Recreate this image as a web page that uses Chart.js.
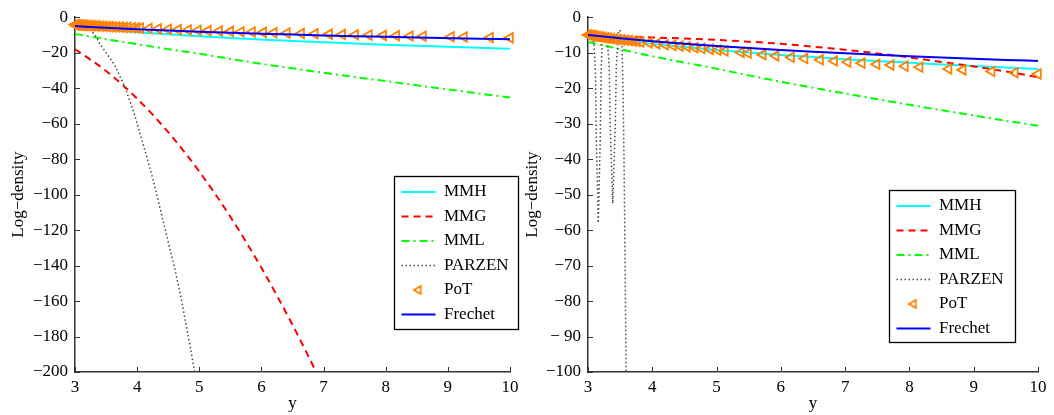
<!DOCTYPE html>
<html>
<head>
<meta charset="utf-8">
<script src="https://cdn.jsdelivr.net/npm/chart.js@4.4.0/dist/chart.umd.min.js"></script>
<style>
  body { margin: 0; background: #fff; }
  #wrap { position: relative; width: 1054px; height: 415px; }
  canvas { position: absolute; top: 0; }
  #leftChart { left: 0; }
  #rightChart { left: 513px; }
</style>
</head>
<body>
<div id="wrap">
  <canvas id="leftChart" width="527" height="415"></canvas>
  <canvas id="rightChart" width="541" height="415"></canvas>
</div>
<script>
// x positions shared by the smooth curves
const gridX = [3, 3.5, 4, 4.5, 5, 5.5, 6, 6.5, 7, 7.5, 8, 8.5, 9, 9.5, 10];

// left panel
const leftMMH = [-5.5, -7.07, -8.43, -9.64, -10.71, -11.68, -12.57, -13.39, -14.14, -14.85, -15.5, -16.12, -16.71, -17.26, -17.78];
const leftMMG = [-18, -30.3, -45.9, -64.8, -87, -112.5, -141.3, -173.4, -208.8, -247.5, -290, -335, -385, -438, -494];
const leftMML = [-9.5, -12.4, -15.2, -18.0, -20.6, -23.5, -26.3, -28.8, -31.3, -33.7, -36.0, -38.4, -40.7, -43.0, -45.3];
const leftFrechet = [-5, -5.96, -6.78, -7.51, -8.17, -8.76, -9.3, -9.79, -10.25, -10.68, -11.08, -11.46, -11.81, -12.15, -12.46];
const leftParzenX = [3.0, 3.1, 3.2, 3.27, 3.34, 3.4, 3.5, 3.64, 3.8, 3.95, 4.05, 4.15, 4.26, 4.35, 4.44, 4.53, 4.62, 4.7, 4.77, 4.85, 4.92, 5.0];
const leftParzenY = [-3.5, -4.5, -6, -8, -11, -15, -20, -27, -39, -54, -66, -78, -92, -105, -118, -131, -144, -157, -170, -185, -199, -215];
const leftPotX = [3.00, 3.02, 3.04, 3.07, 3.10, 3.13, 3.16, 3.20, 3.24, 3.28, 3.32, 3.36, 3.41, 3.46, 3.51, 3.56, 3.61, 3.67, 3.73, 3.79, 3.85, 3.92, 3.99,
  4.05, 4.19, 4.34, 4.50, 4.66, 4.82, 4.98, 5.14, 5.32, 5.50, 5.67, 5.85, 6.03, 6.20,
  6.41, 6.64, 6.86, 7.09, 7.30, 7.51, 7.73, 7.96, 8.17, 8.39, 8.60, 9.05, 9.26, 9.68, 10.0];
const leftPotY = [-4.3, -4.34, -4.38, -4.44, -4.50, -4.56, -4.62, -4.69, -4.77, -4.84, -4.92, -4.99, -5.08, -5.17, -5.26, -5.34, -5.43, -5.53, -5.63, -5.73, -5.82, -5.93, -6.04,
  -6.13, -6.34, -6.55, -6.77, -6.99, -7.19, -7.39, -7.58, -7.79, -8.00, -8.18, -8.37, -8.56, -8.73,
  -8.93, -9.15, -9.35, -9.55, -9.72, -9.90, -10.07, -10.25, -10.41, -10.57, -10.72, -11.04, -11.18, -11.45, -11.64];

// right panel
const rightMMH = [-5.3, -6.49, -7.52, -8.42, -9.23, -9.97, -10.64, -11.25, -11.82, -12.36, -12.85, -13.32, -13.76, -14.18, -14.57];
const rightMMG = [-5.3, -5.45, -5.7, -6.0, -6.4, -6.9, -7.5, -8.3, -9.2, -10.2, -11.35, -12.6, -13.9, -15.3, -16.9];
const rightMML = [-7, -9.0, -11.0, -12.8, -14.5, -16.4, -18.2, -19.9, -21.5, -23.1, -24.7, -26.2, -27.7, -29.2, -30.6];
const rightFrechet = [-5, -5.94, -6.75, -7.47, -8.12, -8.7, -9.23, -9.72, -10.17, -10.59, -10.98, -11.35, -11.7, -12.03, -12.34];
const rightParzenX = [3.00, 3.05, 3.09, 3.115, 3.13, 3.16, 3.19, 3.205, 3.22, 3.26, 3.30, 3.33, 3.345, 3.385, 3.425, 3.44, 3.47, 3.50, 3.53, 3.545, 3.56, 3.575, 3.59, 3.60];
const rightParzenY = [-5, -5.5, -7, -15, -35, -58, -35, -15, -7, -4.2, -6, -14, -30, -52.5, -30, -14, -4.5, -3.6, -8, -20, -40, -65, -95, -110];
const rightPotX = [3.00, 3.03, 3.06, 3.09, 3.12, 3.15, 3.19, 3.23, 3.27, 3.31, 3.36, 3.41, 3.46, 3.52, 3.58, 3.64, 3.70, 3.76,
  3.82, 3.95, 4.07, 4.20, 4.32, 4.43, 4.54, 4.66, 4.77, 4.90, 5.02, 5.13,
  5.38, 5.49, 5.72, 5.92, 6.16, 6.37, 6.61, 6.83, 7.04, 7.26, 7.49, 7.71, 7.93, 8.16, 8.61, 8.83, 9.28, 9.64, 10.0];
const rightPotY = [-5.00, -5.09, -5.18, -5.27, -5.36, -5.45, -5.56, -5.68, -5.79, -5.90, -6.04, -6.17, -6.30, -6.40, -6.50, -6.62, -6.74, -6.86,
  -6.98, -7.25, -7.5, -7.75, -7.95, -8.15, -8.35, -8.6, -8.8, -9.05, -9.3, -9.5,
  -9.95, -10.15, -10.55, -10.9, -11.3, -11.65, -12.0, -12.35, -12.65, -12.95, -13.25, -13.5, -13.8, -14.1, -14.6, -14.85, -15.3, -15.65, -16.0];

Chart.defaults.font.family = "'Liberation Serif', 'Times New Roman', serif";
Chart.defaults.font.size = 17;
Chart.defaults.color = '#000';

const potColor = '#ff8000';

function toPoints(xs, ys) {
  return xs.map((x, i) => ({ x: x, y: ys[i] }));
}

function minusLabel(v) {
  return v < 0 ? '\u2212' + Math.abs(v) : String(v);
}

// small image of the PoT marker for the legend (triangle style stretches with pointStyleWidth)
function potIcon() {
  const c = document.createElement('canvas');
  c.width = 14;
  c.height = 14;
  const g = c.getContext('2d');
  g.strokeStyle = potColor;
  g.fillStyle = 'rgba(0,0,0,0)';
  g.lineWidth = 1.8;
  Chart.helpers.drawPoint(g, { pointStyle: 'triangle', rotation: -90, radius: 4.6, borderWidth: 1.8 }, 7, 7);
  return c;
}
const potLegendIcon = potIcon();

// MATLAB style tick marks pointing into the axes
const innerTicks = {
  id: 'innerTicks',
  afterDatasetsDraw(chart) {
    const { ctx, chartArea, scales } = chart;
    ctx.save();
    ctx.strokeStyle = '#333';
    ctx.lineWidth = 1;
    scales.x.ticks.forEach(t => {
      const px = Math.round(scales.x.getPixelForValue(t.value)) + 0.5;
      ctx.beginPath();
      ctx.moveTo(px, chartArea.bottom);
      ctx.lineTo(px, chartArea.bottom - 5);
      ctx.stroke();
    });
    scales.y.ticks.forEach(t => {
      const py = Math.round(scales.y.getPixelForValue(t.value)) + 0.5;
      ctx.beginPath();
      ctx.moveTo(chartArea.left, py);
      ctx.lineTo(chartArea.left + 5, py);
      ctx.stroke();
    });
    ctx.restore();
  }
};

// put the legend inside the axes with a framed box
const legendPlace = {
  id: 'legendPlace',
  afterUpdate(chart, args, opts) {
    const lg = chart.legend;
    lg.left = opts.left;
    lg.top = opts.top;
    lg.right = opts.left + opts.width;
    lg.bottom = opts.top + 1000;
  },
  beforeDraw(chart, args, opts) {
    const ctx = chart.ctx;
    ctx.save();
    ctx.fillStyle = '#fff';
    ctx.fillRect(opts.left, opts.top, opts.width, opts.height);
    ctx.strokeStyle = '#000';
    ctx.lineWidth = 1.3;
    ctx.strokeRect(opts.left + 0.5, opts.top + 0.5, opts.width, opts.height);
    ctx.restore();
  }
};

function buildDatasets(mmh, mmg, mml, parzenX, parzenY, potX, potY, frechet) {
  return [
    { label: 'MMH', data: toPoints(gridX, mmh), borderColor: '#00ffff', borderWidth: 2, pointRadius: 0, cubicInterpolationMode: 'monotone', order: 6 },
    { label: 'MMG', data: toPoints(gridX, mmg), borderColor: '#ff0000', borderWidth: 2, borderDash: [7, 5], pointRadius: 0, cubicInterpolationMode: 'monotone', order: 5 },
    { label: 'MML', data: toPoints(gridX, mml), borderColor: '#00ff00', borderWidth: 2, borderDash: [8, 4, 2, 4], pointRadius: 0, cubicInterpolationMode: 'monotone', order: 4 },
    { label: 'PARZEN', data: toPoints(parzenX, parzenY), borderColor: '#474747', borderWidth: 1.5, borderDash: [1.5, 2.5], pointRadius: 0, order: 3 },
    { label: 'PoT', data: toPoints(potX, potY), showLine: false, borderColor: potColor, pointStyle: 'triangle', pointRotation: -90,
      pointRadius: 5.5, pointBorderWidth: 1.8, pointBorderColor: potColor, pointBackgroundColor: 'rgba(255,255,255,0)', clip: false, order: 2 },
    { label: 'Frechet', data: toPoints(gridX, frechet), borderColor: '#0000ff', borderWidth: 2, pointRadius: 0, cubicInterpolationMode: 'monotone', order: 1 }
  ];
}

function makeChart(id, datasets, yMin, yStep, tickFmt, titlePad, legendBox) {
  const ctx = document.getElementById(id).getContext('2d');
  return new Chart(ctx, {
    type: 'line',
    data: { datasets: datasets },
    options: {
      responsive: false,
      animation: false,
      events: [],
      layout: { padding: { left: 0, right: legendBox.padRight, top: 16, bottom: 0 } },
      scales: {
        x: {
          type: 'linear',
          min: 3,
          max: 10,
          grid: { display: false, drawTicks: false },
          border: { display: true, color: '#333', width: 1.5 },
          ticks: { stepSize: 1, padding: 5 },
          title: { display: true, text: 'y', padding: { top: 0, bottom: 1 } },
          afterFit(scale) { scale.height = 43; }
        },
        y: {
          min: yMin,
          max: 0,
          grid: { display: false, drawTicks: false },
          border: { display: true, color: '#333', width: 1.5 },
          ticks: { stepSize: yStep, padding: 7, callback: tickFmt },
          title: { display: true, text: 'Log\u2212density', padding: { top: titlePad, bottom: 0 } },
          afterFit(scale) { scale.width = 75; }
        }
      },
      plugins: {
        tooltip: { enabled: false },
        legend: {
          position: 'chartArea',
          align: 'start',
          labels: {
            usePointStyle: true,
            pointStyleWidth: 34,
            boxHeight: 8,
            padding: 7.5,
            color: '#000',
            generateLabels(chart) {
              return chart.data.datasets.map((ds, i) => ({
                text: ds.label,
                datasetIndex: i,
                fillStyle: 'rgba(0,0,0,0)',
                strokeStyle: ds.borderColor,
                lineWidth: ds.showLine === false ? 1.8 : ds.borderWidth,
                lineDash: ds.borderDash || [],
                pointStyle: ds.showLine === false ? potLegendIcon : 'line',
                rotation: 0,
                fontColor: '#000',
                hidden: false
              }));
            }
          }
        },
        legendPlace: legendBox
      }
    },
    plugins: [innerTicks, legendPlace]
  });
}

makeChart('leftChart',
  buildDatasets(leftMMH, leftMMG, leftMML, leftParzenX, leftParzenY, leftPotX, leftPotY, leftFrechet),
  -200, 20, v => minusLabel(v), 8,
  { left: 394, top: 176, width: 124, height: 153, padRight: 17 });

makeChart('rightChart',
  buildDatasets(rightMMH, rightMMG, rightMML, rightParzenX, rightParzenY, rightPotX, rightPotY, rightFrechet),
  -100, 10, v => (v === -90 ? '\u2212 90' : minusLabel(v)), 9,
  { left: 376, top: 190, width: 126, height: 152, padRight: 16 });
</script>
</body>
</html>
